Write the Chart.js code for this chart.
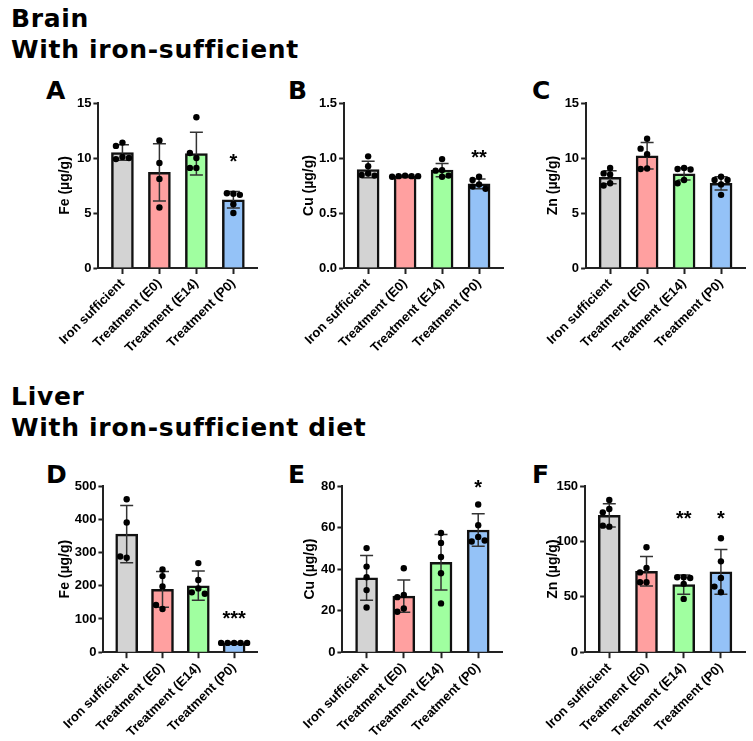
<!DOCTYPE html>
<html>
<head>
<meta charset="utf-8">
<script src="https://cdn.jsdelivr.net/npm/chart.js@4.4.1/dist/chart.umd.min.js"></script>
<style>
  body { margin: 0; background: #fff; }
  #page { position: relative; width: 753px; height: 741px; overflow: hidden; font-family: "DejaVu Sans", sans-serif; }
  .head { position: absolute; left: 11px; font-weight: bold; font-size: 25px; line-height: 31px; letter-spacing: 0.7px; color: #000; white-space: nowrap; }
  .letter { position: absolute; font-weight: bold; font-size: 25px; line-height: 25px; color: #000; }
  .box { position: absolute; }
</style>
</head>
<body>
<div id="page">
  <div class="head" style="top:3px">Brain<br>With iron-sufficient</div>
  <div class="head" style="top:381px">Liver<br>With iron-sufficient diet</div>
</div>
<script>
const groups = ["Iron sufficient", "Treatment (E0)", "Treatment (E14)", "Treatment (P0)"];

// A - brain Fe
const feBrainTicks = [0, 5, 10, 15];
const feBrainMean = [10.5, 8.7, 10.4, 6.2];
const feBrainSd = [0.7, 2.6, 1.95, 0.75];
const feBrainPts = [[11.4, 11.1, 10.1, 9.9, 10.0], [11.6, 9.55, 8.1, 5.5], [13.7, 10.0, 10.45, 9.1, 9.1], [6.75, 6.8, 6.65, 5.8, 5.0]];
const feBrainSig = ["", "", "", "*"];
const feBrainSigAt = 10.1;

// B - brain Cu
const cuBrainTicks = [0, 0.5, 1.0, 1.5];
const cuBrainMean = [0.895, 0.835, 0.89, 0.765];
const cuBrainSd = [0.075, 0.008, 0.06, 0.045];
const cuBrainPts = [[1.015, 0.925, 0.86, 0.845, 0.84], [0.84, 0.835, 0.835, 0.83, 0.835], [0.99, 0.89, 0.885, 0.84, 0.83], [0.83, 0.80, 0.76, 0.74, 0.72]];
const cuBrainSig = ["", "", "", "**"];
const cuBrainSigAt = 1.05;

// C - brain Zn
const znBrainTicks = [0, 5, 10, 15];
const znBrainMean = [8.25, 10.2, 8.55, 7.7];
const znBrainSd = [0.6, 1.2, 0.55, 0.6];
const znBrainPts = [[9.1, 8.6, 8.5, 7.7, 7.5], [11.75, 10.35, 10.85, 9.05, 9.0], [9.1, 9.0, 8.95, 8.0, 7.7], [8.3, 8.0, 8.0, 7.6, 6.65]];
const znBrainSig = ["", "", "", ""];
const znBrainSigAt = 0;

// D - liver Fe
const feLiverTicks = [0, 100, 200, 300, 400, 500];
const feLiverMean = [355, 189, 200, 28];
const feLiverSd = [86, 54, 44, 2];
const feLiverPts = [[460, 390, 284, 288], [249, 229, 198, 130, 142], [268, 217, 192, 180, 176], [28, 28, 28, 28, 28]];
const feLiverSig = ["", "", "", "***"];
const feLiverSigAt = 115;

// E - liver Cu
const cuLiverTicks = [0, 20, 40, 60, 80];
const cuLiverMean = [35.8, 27, 43.3, 58.8];
const cuLiverSd = [10.8, 7.8, 13.4, 7.8];
const cuLiverPts = [[50.1, 41.2, 36.1, 29.9, 21.5], [40.4, 27.5, 26.5, 21, 19.5], [57.4, 52.6, 45.8, 38.0, 23.5], [71.1, 61.1, 55.5, 53.3, 53.8]];
const cuLiverSig = ["", "", "", "*"];
const cuLiverSigAt = 81.6;

// F - liver Zn
const znLiverTicks = [0, 50, 100, 150];
const znLiverMean = [123.5, 73, 61, 72.5];
const znLiverSd = [10.5, 13.3, 8.6, 20.3];
const znLiverPts = [[137.4, 129.3, 126.2, 113.3, 114.2], [94.7, 76.1, 72, 63.1, 63.1], [67.6, 67.6, 67, 61.7, 48.1], [102.8, 82, 67, 54.1, 59.2]];
const znLiverSig = ["", "", "**", "*"];
const znLiverSigAt = 124.8;

const fills = ["#d3d3d3", "#ffa0a0", "#a0ffa0", "#94c2f7"];
const fam = "'Liberation Sans', Arial, sans-serif";
const axisFont = { family: fam, weight: "bold", size: 13 };
const GAP = 6.5;

const panels = [
  { letter: "A", label: "Fe (µg/g)", mean: feBrainMean, sd: feBrainSd, pts: feBrainPts, ticks: feBrainTicks, sig: feBrainSig, sigAt: feBrainSigAt, dec: 0,
    titleX: 65, axisL: 98, axisR: 257, top: 102.7, bottom: 267.7, lx: 46, ly: 78 },
  { letter: "B", label: "Cu (µg/g)", mean: cuBrainMean, sd: cuBrainSd, pts: cuBrainPts, ticks: cuBrainTicks, sig: cuBrainSig, sigAt: cuBrainSigAt, dec: 1,
    titleX: 309.3, axisL: 344, axisR: 503, top: 102.7, bottom: 267.7, lx: 288, ly: 78 },
  { letter: "C", label: "Zn (µg/g)", mean: znBrainMean, sd: znBrainSd, pts: znBrainPts, ticks: znBrainTicks, sig: znBrainSig, sigAt: znBrainSigAt, dec: 0,
    titleX: 553.3, axisL: 586, axisR: 745, top: 102.7, bottom: 267.7, lx: 532, ly: 78 },
  { letter: "D", label: "Fe (µg/g)", mean: feLiverMean, sd: feLiverSd, pts: feLiverPts, ticks: feLiverTicks, sig: feLiverSig, sigAt: feLiverSigAt, dec: 0,
    titleX: 65, axisL: 103, axisR: 257, top: 485.5, bottom: 651.7, lx: 46, ly: 462 },
  { letter: "E", label: "Cu (µg/g)", mean: cuLiverMean, sd: cuLiverSd, pts: cuLiverPts, ticks: cuLiverTicks, sig: cuLiverSig, sigAt: cuLiverSigAt, dec: 0,
    titleX: 310, axisL: 342, axisR: 502, top: 485.5, bottom: 651.7, lx: 288, ly: 462 },
  { letter: "F", label: "Zn (µg/g)", mean: znLiverMean, sd: znLiverSd, pts: znLiverPts, ticks: znLiverTicks, sig: znLiverSig, sigAt: znLiverSigAt, dec: 0,
    titleX: 553.3, axisL: 585, axisR: 745, top: 485.5, bottom: 651.7, lx: 532, ly: 462 }
];

// spread points sideways so they don't sit on top of each other
const swarm = {
  id: "swarm",
  afterDatasetsUpdate(chart) {
    const meta = chart.getDatasetMeta(0);
    const raw = chart.data.datasets[0].data;
    const placed = {};
    meta.data.forEach((pt, k) => {
      const gx = raw[k].x;
      const list = placed[gx] || (placed[gx] = []);
      const x0 = chart.scales.x.getPixelForValue(gx);
      let dx = 0;
      for (let step = 0; step < 14; step++) {
        dx = step === 0 ? 0 : (step % 2 ? -1 : 1) * Math.ceil(step / 2) * GAP;
        if (list.every(q => Math.hypot(q.x - (x0 + dx), q.y - pt.y) >= GAP)) break;
      }
      pt.x = x0 + dx;
      list.push({ x: pt.x, y: pt.y });
    });
  }
};

const errorBars = {
  id: "errorBars",
  afterDatasetDraw(chart, args) {
    const ds = chart.data.datasets[args.index];
    if (!ds.sd) return;
    const { ctx } = chart;
    const y = chart.scales.y;
    ctx.save();
    ctx.strokeStyle = "#333";
    ctx.lineWidth = 1.5;
    args.meta.data.forEach((bar, i) => {
      const m = ds.data[i].y, s = ds.sd[i];
      const t = y.getPixelForValue(m + s), b = y.getPixelForValue(m - s);
      ctx.beginPath();
      ctx.moveTo(bar.x, t); ctx.lineTo(bar.x, b);
      ctx.moveTo(bar.x - 6.5, t); ctx.lineTo(bar.x + 6.5, t);
      ctx.moveTo(bar.x - 6.5, b); ctx.lineTo(bar.x + 6.5, b);
      ctx.stroke();
    });
    ctx.restore();
  }
};

const stars = {
  id: "stars",
  afterDraw(chart) {
    const p = chart.options.plugins.stars;
    const { ctx } = chart;
    ctx.save();
    ctx.fillStyle = "#000";
    ctx.font = "bold 20px " + fam;
    ctx.textAlign = "center";
    ctx.textBaseline = "alphabetic";
    p.sig.forEach((txt, i) => {
      if (!txt) return;
      const x = chart.scales.x.getPixelForValue(i);
      const yc = chart.scales.y.getPixelForValue(p.at);
      ctx.fillText(txt, x, yc + 11.5);
    });
    ctx.restore();
  }
};

const page = document.getElementById("page");

panels.forEach(p => {
  const letter = document.createElement("div");
  letter.className = "letter";
  letter.style.left = p.lx + "px";
  letter.style.top = p.ly + "px";
  letter.textContent = p.letter;
  page.appendChild(letter);

  const left = p.titleX - 8.4;
  const padTop = 16, xH = 100, padRight = 6;
  const wrap = document.createElement("div");
  wrap.className = "box";
  wrap.style.left = left + "px";
  wrap.style.top = (p.top - padTop) + "px";
  wrap.style.width = (p.axisR - left + padRight) + "px";
  wrap.style.height = (padTop + (p.bottom - p.top) + xH) + "px";
  const cv = document.createElement("canvas");
  wrap.appendChild(cv);
  page.appendChild(wrap);

  const pointData = [];
  p.pts.forEach((vals, i) => vals.forEach(v => pointData.push({ x: i, y: v })));
  const yMax = p.ticks[p.ticks.length - 1];

  new Chart(cv, {
    type: "bar",
    data: {
      datasets: [
        { type: "scatter", data: pointData, pointRadius: 3.2, pointHoverRadius: 3.2, pointBackgroundColor: "#000", pointBorderWidth: 0, order: 1 },
        { type: "bar", data: p.mean.map((m, i) => ({ x: i, y: m })), sd: p.sd, backgroundColor: fills, borderColor: "#111",
          borderWidth: 2.5, barThickness: 22, order: 2 }
      ]
    },
    options: {
      responsive: true,
      maintainAspectRatio: false,
      animation: false,
      layout: { padding: { top: padTop, right: padRight, left: 0, bottom: 0 } },
      plugins: { legend: { display: false }, tooltip: { enabled: false }, stars: { sig: p.sig, at: p.sigAt } },
      scales: {
        x: {
          type: "linear", min: -0.65, max: 3.65, offset: false,
          afterBuildTicks: s => { s.ticks = groups.map((g, i) => ({ value: i })); },
          afterFit: s => { s.height = xH; s.paddingLeft = 0; s.paddingRight = 0; },
          grid: { display: true, offset: false, drawOnChartArea: false, drawTicks: true, tickLength: 6, tickWidth: 2, tickColor: "#222" },
          border: { display: true, width: 2, color: "#222" },
          ticks: { minRotation: 45, maxRotation: 45, autoSkip: false, padding: 2, color: "#000", font: axisFont, callback: v => groups[v] }
        },
        y: {
          min: 0, max: yMax,
          afterBuildTicks: s => { s.ticks = p.ticks.map(v => ({ value: v })); },
          afterFit: s => { s.width = p.axisL - left; },
          grid: { display: true, drawOnChartArea: false, drawTicks: true, tickLength: 5, tickWidth: 2, tickColor: "#222" },
          border: { display: true, width: 2, color: "#222" },
          ticks: { padding: 2, color: "#000", font: axisFont, callback: v => v.toFixed(p.dec) },
          title: { display: true, text: p.label, padding: 0, color: "#000", font: { family: fam, weight: "bold", size: 14 } }
        }
      }
    },
    plugins: [swarm, errorBars, stars]
  });
});
</script>
</body>
</html>
